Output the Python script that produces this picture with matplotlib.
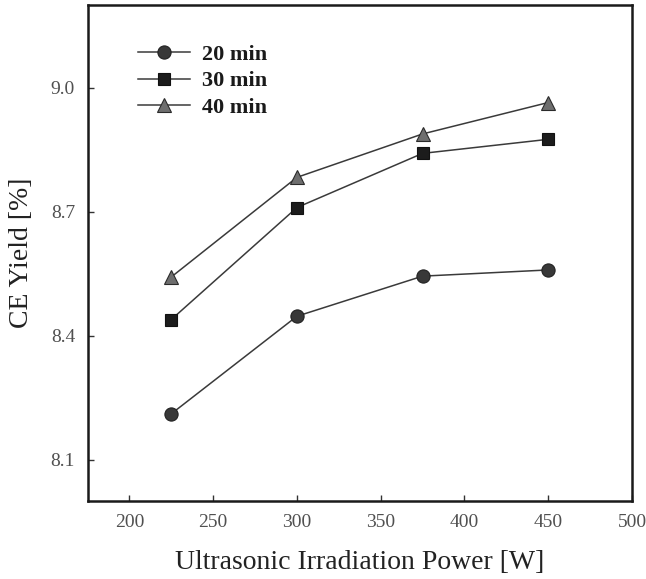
import matplotlib
matplotlib.use("Agg")
import matplotlib.pyplot as plt

power = [225, 300, 375, 450]
yield_20 = [8.211, 8.447, 8.544, 8.559]
yield_30 = [8.439, 8.710, 8.841, 8.875]
yield_40 = [8.542, 8.783, 8.888, 8.964]
labels = ["20 min", "30 min", "40 min"]
x_ticks = [200, 250, 300, 350, 400, 450, 500]
y_ticks = [8.1, 8.4, 8.7, 9.0]

plt.rcParams['font.family'] = ['Liberation Serif', 'DejaVu Serif']

fig = plt.figure(figsize=(6.46, 5.79), dpi=100)
ax = fig.add_axes([0.1355, 0.1347, 0.8428, 0.8567])

line_col = '#3a3a3a'
ax.plot(power, yield_20, color=line_col, lw=1.1, marker='o', ms=9.5,
        mfc='#383838', mec='#222222', mew=0.8, label=labels[0], zorder=3)
ax.plot(power, yield_30, color=line_col, lw=1.1, marker='s', ms=8.5,
        mfc='#1c1c1c', mec='#111111', mew=0.8, label=labels[1], zorder=3)
ax.plot(power, yield_40, color=line_col, lw=1.1, marker='^', ms=10,
        mfc='#6e6e6e', mec='#2a2a2a', mew=0.8, label=labels[2], zorder=3)

ax.set_xlim(175, 500)
ax.set_ylim(8.0, 9.2)
ax.set_xticks(x_ticks)
ax.set_yticks(y_ticks)
ax.set_yticklabels([f"{v:.1f}" for v in y_ticks])
ax.tick_params(direction='in', length=4, width=1, labelsize=14,
               labelcolor='#505050', color='#333333', pad=9)

for s in ax.spines.values():
    s.set_linewidth(1.8)
    s.set_color('#1a1a1a')

ax.set_xlabel("Ultrasonic Irradiation Power [W]", fontsize=20, color='#222222', labelpad=14)
ax.set_ylabel("CE Yield [%]", fontsize=20, color='#222222', labelpad=12)

leg = ax.legend(loc='upper left', bbox_to_anchor=(0.0927, 0.921), frameon=False,
                borderpad=0, borderaxespad=0, handlelength=2.35, handletextpad=0.55,
                labelspacing=0.28, prop={'weight': 'bold', 'size': 16})
for t in leg.get_texts():
    t.set_color('#1a1a1a')

fig.savefig("out.png", dpi=100)
